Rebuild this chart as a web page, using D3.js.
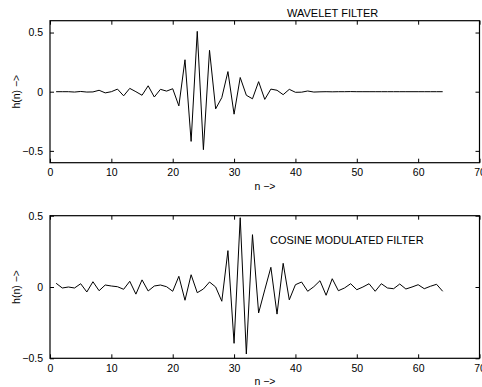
<!DOCTYPE html>
<html lang="en">
<head>
  <meta charset="UTF-8">
  <title>filters</title>
  <script src="https://cdn.jsdelivr.net/npm/d3@7"></script>
  <style>
    body { margin: 0; background: #fff; }
    text { font-family: "Liberation Sans", Arial, sans-serif; fill: #000; }
  </style>
</head>
<body>
  <svg width="482" height="387"></svg>
  <script>
    // h(n), n = 1..64
    var waveletH = [0, 0, 0, -0.003, 0.002, -0.003, -0.002, 0.012, -0.01, 0,
      0.022, -0.035, 0.028, 0, -0.03, 0.05, -0.045, 0.02, 0.005, 0.025,
      -0.12, 0.27, -0.42, 0.51, -0.49, 0.35, -0.145, -0.05, 0.17, -0.19,
      0.12, -0.03, -0.06, 0.085, -0.065, 0.022, 0.012, -0.025, 0.02, -0.005,
      -0.004, 0.006, -0.003, -0.001, 0, -0.001, 0, 0, 0.001, 0,
      0, 0, 0, 0, 0, 0, 0, 0, 0, 0, 0, 0, 0, 0]
    var cosineH = [0.026, -0.007, 0, -0.007, 0.023, -0.035, 0.037, -0.026, 0.014, 0.007,
      0.002, -0.016, 0.04, -0.05, 0.05, -0.028, 0.007, 0.014, 0.002, -0.03,
      0.075, -0.093, 0.086, -0.04, -0.014, 0.035, 0, -0.1, 0.255, -0.395,
      0.486, -0.47, 0.367, -0.182, -0.02, 0.138, -0.19, 0.166, -0.09, 0.016,
      0.035, -0.03, 0.002, 0.044, -0.058, 0.058, -0.026, -0.007, 0.023, -0.019,
      0, 0.023, -0.03, 0.023, -0.007, -0.012, 0.021, -0.014, 0, 0.016,
      -0.012, 0.005, 0.019, -0.03]
    var xTicks = [0, 10, 20, 30, 40, 50, 60, 70]
    var yTicks = [-0.5, 0, 0.5]

    var svg = d3.select('svg')
    var fmt = d => d === 0 ? '0' : d3.format('.1f')(d).replace('-', '\u2212')

    function panel(data, yDomain, top, bottom, title, titlePos) {
      var left = 50, right = 479.5
      var x = d3.scaleLinear().domain([0, 70]).range([left, right])
      var y = d3.scaleLinear().domain(yDomain).range([bottom, top])
      var g = svg.append('g')

      // inward ticks on all four sides
      g.append('g').attr('transform', `translate(0,${bottom})`)
        .call(d3.axisBottom(x).tickValues(xTicks).tickSizeInner(-4).tickSizeOuter(0).tickPadding(6).tickFormat(d3.format('d')))
      g.append('g').attr('transform', `translate(0,${top})`)
        .call(d3.axisTop(x).tickValues(xTicks).tickSizeInner(-4).tickSizeOuter(0).tickFormat(''))
      g.append('g').attr('transform', `translate(${left},0)`)
        .call(d3.axisLeft(y).tickValues(yTicks).tickSizeInner(-4).tickSizeOuter(0).tickPadding(7).tickFormat(fmt))
      g.append('g').attr('transform', `translate(${right},0)`)
        .call(d3.axisRight(y).tickValues(yTicks).tickSizeInner(-4).tickSizeOuter(0).tickFormat(''))
      g.selectAll('.domain').remove()
      g.selectAll('.tick line').attr('stroke', '#000')
      g.selectAll('.tick text').attr('font-size', 10.5).attr('font-family', '"Liberation Sans", Arial, sans-serif')

      g.append('rect')
        .attr('x', left).attr('y', top)
        .attr('width', right - left).attr('height', bottom - top)
        .attr('fill', 'none').attr('stroke', '#000').attr('stroke-width', 1.2)

      var line = d3.line().x((d, i) => x(i + 1)).y(d => y(d))
      g.append('path').datum(data)
        .attr('d', line)
        .attr('fill', 'none').attr('stroke', '#000').attr('stroke-width', 1)

      g.append('text').attr('x', 265).attr('y', bottom + 27)
        .attr('text-anchor', 'middle').attr('font-size', 10.5).text('n \u2212>')
      g.append('text')
        .attr('transform', `translate(20,${(top + bottom) / 2}) rotate(-90)`)
        .attr('text-anchor', 'middle').attr('font-size', 10.5).text('h(n) \u2212>')
      g.append('text').attr('x', titlePos[0]).attr('y', titlePos[1])
        .attr('font-size', 11).text(title)
    }

    panel(waveletH, [-0.6, 0.6], 20.7, 162.7, 'WAVELET FILTER', [287, 17])
    panel(cosineH, [-0.5, 0.5], 215.7, 358.3, 'COSINE MODULATED FILTER', [270, 244])
  </script>
</body>
</html>
